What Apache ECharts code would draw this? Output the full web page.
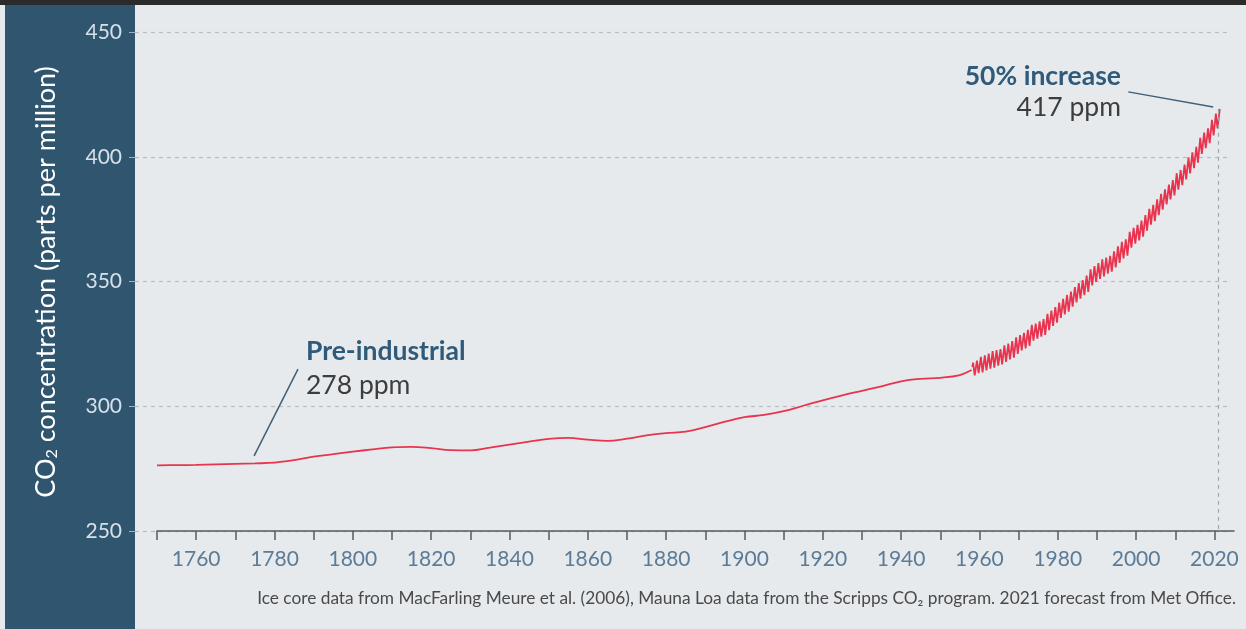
<!DOCTYPE html>
<html>
<head>
<meta charset="utf-8">
<script src="https://cdn.jsdelivr.net/npm/echarts@6/dist/echarts.min.js"></script>
<style>
html,body{margin:0;padding:0;background:#e6eaed;}
#chart{width:1246px;height:629px;}
</style>
</head>
<body>
<div id="chart"></div>
<script>
// ---- Data ----
const iceYears = [1750,1755,1760,1765,1770,1775,1780,1785,1790,1795,1800,1805,1810,1815,1820,1825,1830,1835,1840,1845,1850,1855,1860,1865,1870,1875,1880,1885,1890,1895,1900,1905,1910,1915,1920,1925,1930,1935,1940,1945,1950,1955,1958];
const iceValues = [276.3,276.4,276.5,276.7,276.9,277.1,277.4,278.4,279.8,280.8,281.8,282.7,283.5,283.7,283.2,282.4,282.3,283.4,284.6,285.8,286.9,287.3,286.6,286.1,287.0,288.3,289.2,289.8,291.6,293.8,295.6,296.5,298.0,300.2,302.4,304.4,306.2,308.0,310.0,311.0,311.4,312.5,314.5];

const mloStart = [1958.2, 315.7];
const mloYears = [1958,1959,1960,1961,1962,1963,1964,1965,1966,1967,1968,1969,1970,1971,1972,1973,1974,1975,1976,1977,1978,1979,1980,1981,1982,1983,1984,1985,1986,1987,1988,1989,1990,1991,1992,1993,1994,1995,1996,1997,1998,1999,2000,2001,2002,2003,2004,2005,2006,2007,2008,2009,2010,2011,2012,2013,2014,2015,2016,2017,2018,2019,2020,2021];
const mloMayPeak = [317.5,318.3,319.8,320.4,321.1,322.1,322.5,322.9,324.4,325.1,326.1,327.6,328.5,329.4,330.6,332.6,333.1,334.0,334.9,337.0,338.3,339.7,341.5,343.0,344.6,346.0,347.8,349.4,350.6,352.4,354.9,356.2,357.4,358.9,359.6,360.3,362.1,364.1,365.9,366.9,369.9,371.5,372.7,374.4,376.6,379.1,380.7,382.9,385.1,386.9,388.8,390.6,393.4,394.7,396.9,399.8,401.8,404.0,407.6,409.7,411.4,414.8,417.3,419.2];
const mloOctTrough = [312.4,313.3,313.6,314.4,315.1,315.5,316.3,316.8,317.8,318.8,319.5,321.0,322.4,323.2,324.2,326.3,327.1,327.9,328.6,330.5,332.2,333.5,335.4,336.8,337.9,339.9,341.6,343.1,344.5,345.8,348.4,349.8,351.0,352.0,353.2,353.9,355.6,357.5,359.3,360.4,363.6,365.2,366.5,368.0,370.4,372.8,374.2,376.6,378.8,380.9,382.9,384.5,386.8,388.6,390.9,393.3,395.4,397.6,401.1,403.4,405.4,408.6,411.4,null];

const yTicks = [250,300,350,400,450];
const xTickYears = [1750,1760,1770,1780,1790,1800,1810,1820,1830,1840,1850,1860,1870,1880,1890,1900,1910,1920,1930,1940,1950,1960,1970,1980,1990,2000,2010,2020];
const xLabelYears = [1760,1780,1800,1820,1840,1860,1880,1900,1920,1940,1960,1980,2000,2020];

const forecastYear = 2021;
const preIndustrial = {title:'Pre-industrial', value:'278 ppm', from:[1786.0,314.9], to:[1774.8,280.1]};
const current = {title:'50% increase', value:'417 ppm', from:[1998.0,426.0], to:[2019.7,419.9]};
const yTitle = 'CO{s|2} concentration (parts per million)';
const footer = 'Ice core data from MacFarling Meure et al. (2006), Mauna Loa data from the Scripps CO\u2082 program. 2021 forecast from Met Office.';

// ---- Build series data ----
const iceData = iceYears.map((y,i)=>[y, iceValues[i]]);
const MAY = 4.5/12, OCT = 9.5/12;
const mloData = [mloStart];
mloYears.forEach((y,i)=>{
  mloData.push([y+MAY, mloMayPeak[i]]);
  if (mloOctTrough[i] != null) mloData.push([y+OCT, mloOctTrough[i]]);
});
const lastPeak = mloData[mloData.length-1];

const FONT = 'Lato';
const RED = '#e8344e';
const chart = echarts.init(document.getElementById('chart'), null, {renderer:'canvas'});
chart.setOption({
  animation:false,
  backgroundColor:'#e6eaed',
  textStyle:{fontFamily:FONT},
  grid:[
    {left:135, right:19, top:32, bottom:98},
    {left:157, right:12, top:32, bottom:98}
  ],
  xAxis:[
    {gridIndex:0, type:'value', min:0, max:1, show:false},
    {gridIndex:1, type:'value', min:1750, max:2025, interval:10,
      axisLine:{show:true, lineStyle:{color:'#555b60', width:1.5}},
      axisTick:{show:true, length:9, lineStyle:{color:'#555b60', width:1.5}, customValues:xTickYears},
      axisLabel:{color:'#5b7b96', fontSize:21, fontFamily:FONT, margin:18, customValues:xLabelYears,
        formatter:(v)=>String(v)},
      splitLine:{show:false}}
  ],
  yAxis:[
    {gridIndex:0, type:'value', min:250, max:450, interval:50,
      axisLine:{show:false},
      axisTick:{show:true, length:6, lineStyle:{color:'#9fb2c2'}},
      axisLabel:{color:'#d6e0e9', fontSize:21, fontFamily:FONT, margin:13, customValues:yTicks,
        formatter:(v)=>String(v)},
      splitLine:{show:true, lineStyle:{color:'#b7bdc3', type:[4,4], width:1.2}}},
    {gridIndex:1, type:'value', min:250, max:450, show:false, splitLine:{show:false}}
  ],
  series:[
    {type:'line', xAxisIndex:1, yAxisIndex:1, data:iceData, smooth:0.4, symbol:'none',
      lineStyle:{color:RED, width:1.8}, z:3,
      markLine:{silent:true, symbol:'none', label:{show:false},
        lineStyle:{color:'#3f5f78', width:1.5, type:'solid'},
        data:[[{coord:preIndustrial.from},{coord:preIndustrial.to}],
              [{coord:current.from},{coord:current.to}]]}},
    {type:'line', xAxisIndex:1, yAxisIndex:1, data:mloData, symbol:'none',
      lineStyle:{color:RED, width:1.8}, z:4,
      markLine:{silent:true, symbol:'none', label:{show:false},
        lineStyle:{color:'#9aa6b0', width:1.2, type:[4,4]},
        data:[[{coord:[forecastYear, lastPeak[1]]},{coord:[forecastYear, 250]}]]}}
  ],
  graphic:[
    {type:'rect', z:-10, shape:{x:0,y:0,width:1246,height:5}, style:{fill:'#2b2b2b'}},
    {type:'rect', z:-10, shape:{x:5,y:5,width:130,height:624}, style:{fill:'#30556f'}},
    {type:'text', x:46, y:282, rotation:Math.PI/2,
      style:{text:yTitle, fill:'#ffffff', fontFamily:FONT, fontSize:27, align:'center', verticalAlign:'middle',
        rich:{s:{fontSize:16, fontFamily:FONT, fill:'#ffffff', verticalAlign:'bottom', padding:[12,0,0,0]}}}},
    {type:'text', x:306, y:351, style:{text:preIndustrial.title, fill:'#2f5a7a', fontFamily:FONT, fontWeight:'bold', fontSize:26.5, align:'left', verticalAlign:'middle'}},
    {type:'text', x:306, y:385, style:{text:preIndustrial.value, fill:'#3d3d3d', fontFamily:FONT, fontSize:26.5, align:'left', verticalAlign:'middle'}},
    {type:'text', x:1121, y:76, style:{text:current.title, fill:'#2f5a7a', fontFamily:FONT, fontWeight:'bold', fontSize:26.5, align:'right', verticalAlign:'middle'}},
    {type:'text', x:1121, y:107.5, style:{text:current.value, fill:'#3d3d3d', fontFamily:FONT, fontSize:26.5, align:'right', verticalAlign:'middle'}},
    {type:'text', x:1236, y:598, style:{text:footer, fill:'#4a4a4a', fontFamily:FONT, fontSize:17.3, align:'right', verticalAlign:'middle'}}
  ]
});
</script>
</body>
</html>
